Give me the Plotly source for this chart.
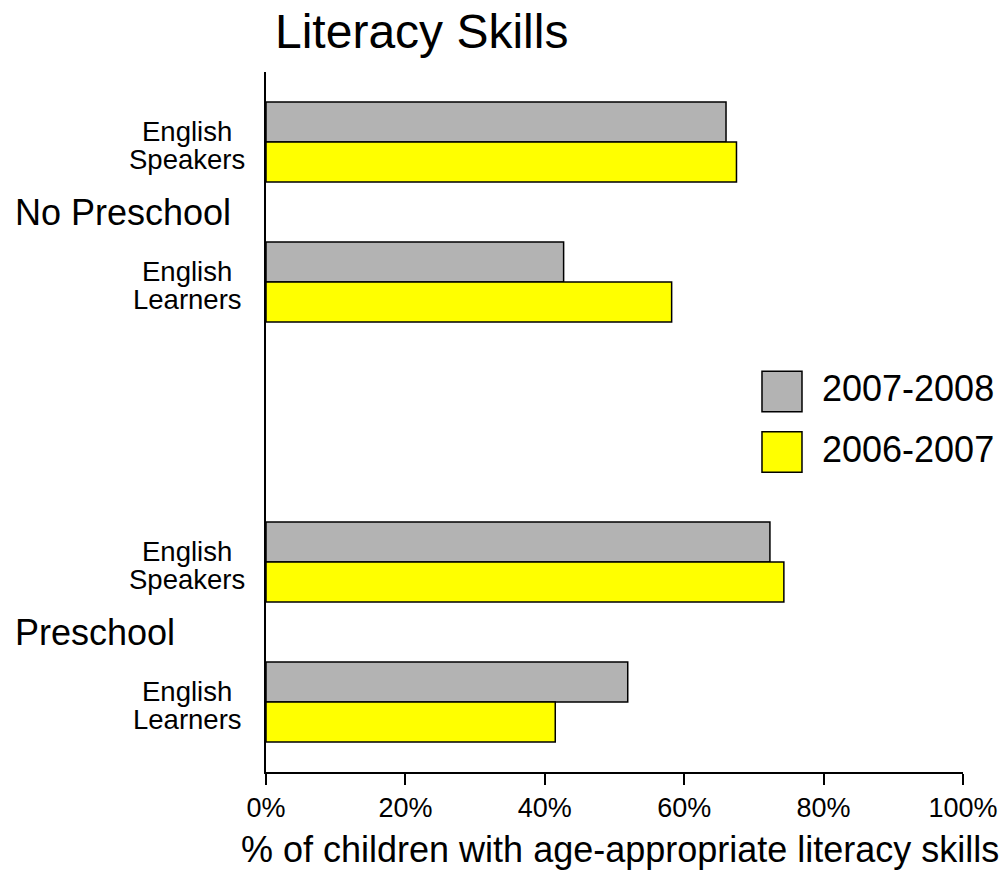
import plotly.graph_objects as go

categories = ["English Learners", "English Speakers", "English Learners", "English Speakers"]
positions = [0, 1, 3, 4]
groups = ["Preschool", "No Preschool"]
group_positions = [0.5, 3.5]
series_names = ["2007-2008", "2006-2007"]
values_2007_2008 = [51.9, 72.3, 42.7, 66.0]
values_2006_2007 = [41.5, 74.3, 58.2, 67.5]
colors = ["#b3b3b3", "#ffff00"]
x_ticks = [0, 20, 40, 60, 80, 100]
x_ticklabels = ["0%", "20%", "40%", "60%", "80%", "100%"]

FONT = "Arial, Liberation Sans, sans-serif"
W = 0.286

fig = go.Figure()
fig.add_trace(go.Bar(
    y=positions, x=values_2007_2008, orientation="h", name=series_names[0],
    width=W, offset=0, marker=dict(color=colors[0], line=dict(color="black", width=1.5)),
    showlegend=False))
fig.add_trace(go.Bar(
    y=positions, x=values_2006_2007, orientation="h", name=series_names[1],
    width=W, offset=-W, marker=dict(color=colors[1], line=dict(color="black", width=1.5)),
    showlegend=False))

annotations = []
# category labels (two centered lines)
for cat, pos in zip(categories, positions):
    l1, l2 = cat.split(" ", 1)
    annotations.append(dict(text=l1, x=0, y=pos, xref="paper", yref="y", xanchor="center",
                            yanchor="middle", xshift=-79, yshift=11, showarrow=False,
                            font=dict(size=27.5, family=FONT, color="black")))
    annotations.append(dict(text=l2, x=0, y=pos, xref="paper", yref="y", xanchor="center",
                            yanchor="middle", xshift=-79, yshift=-17, showarrow=False,
                            font=dict(size=27.5, family=FONT, color="black")))
# group labels
for g, gp in zip(groups, group_positions):
    annotations.append(dict(text=g, x=(13 - 266) / 697, y=gp, xref="paper", yref="y",
                            xanchor="left", yanchor="middle", showarrow=False,
                            font=dict(size=36, family=FONT, color="black")))
# x axis title
annotations.append(dict(text="% of children with age-appropriate literacy skills",
                        x=0.508, y=-0.1114, xref="paper", yref="paper", xanchor="center",
                        yanchor="middle", showarrow=False,
                        font=dict(size=36, family=FONT, color="black")))

# legend built from shapes + annotations
shapes = []
leg_y = [(0.5146, 0.5726, 0.548), (0.4281, 0.4861, 0.4614)]
for name, col, (y0, y1, yt) in zip(series_names, colors, leg_y):
    shapes.append(dict(type="rect", xref="paper", yref="paper", x0=0.7116, x1=0.769,
                       y0=y0, y1=y1, fillcolor=col, line=dict(color="black", width=1.5)))
    annotations.append(dict(text=name, x=0.7948, y=yt, xref="paper", yref="paper",
                            xanchor="left", yanchor="middle", showarrow=False,
                            font=dict(size=36, family=FONT, color="black")))

fig.update_layout(
    width=1006, height=871, autosize=False,
    margin=dict(l=266, r=43, t=72, b=99, autoexpand=False),
    paper_bgcolor="white", plot_bgcolor="white",
    title=dict(text="Literacy Skills", x=(275 - 266) / 697, xref="paper", xanchor="left",
               y=1 - 31 / 871, yref="container", yanchor="middle",
               font=dict(size=48, family=FONT, color="black")),
    xaxis=dict(range=[0, 100], tickvals=x_ticks, ticktext=x_ticklabels, showgrid=False,
               zeroline=False, showline=True, linecolor="black", linewidth=2,
               ticks="outside", ticklen=11, tickwidth=1.5, tickcolor="black",
               automargin=False,
               tickfont=dict(size=27, family=FONT, color="black")),
    yaxis=dict(range=[-0.5, 4.5], showticklabels=False, showgrid=False, zeroline=False,
               showline=True, linecolor="black", linewidth=1.5, ticks="", automargin=False),
    annotations=annotations, shapes=shapes,
    showlegend=False,
)

fig.write_html("out.html",
               config=dict(displayModeBar=False, responsive=False),
               post_script="document.body.style.margin='0';document.body.style.overflow='hidden';")
